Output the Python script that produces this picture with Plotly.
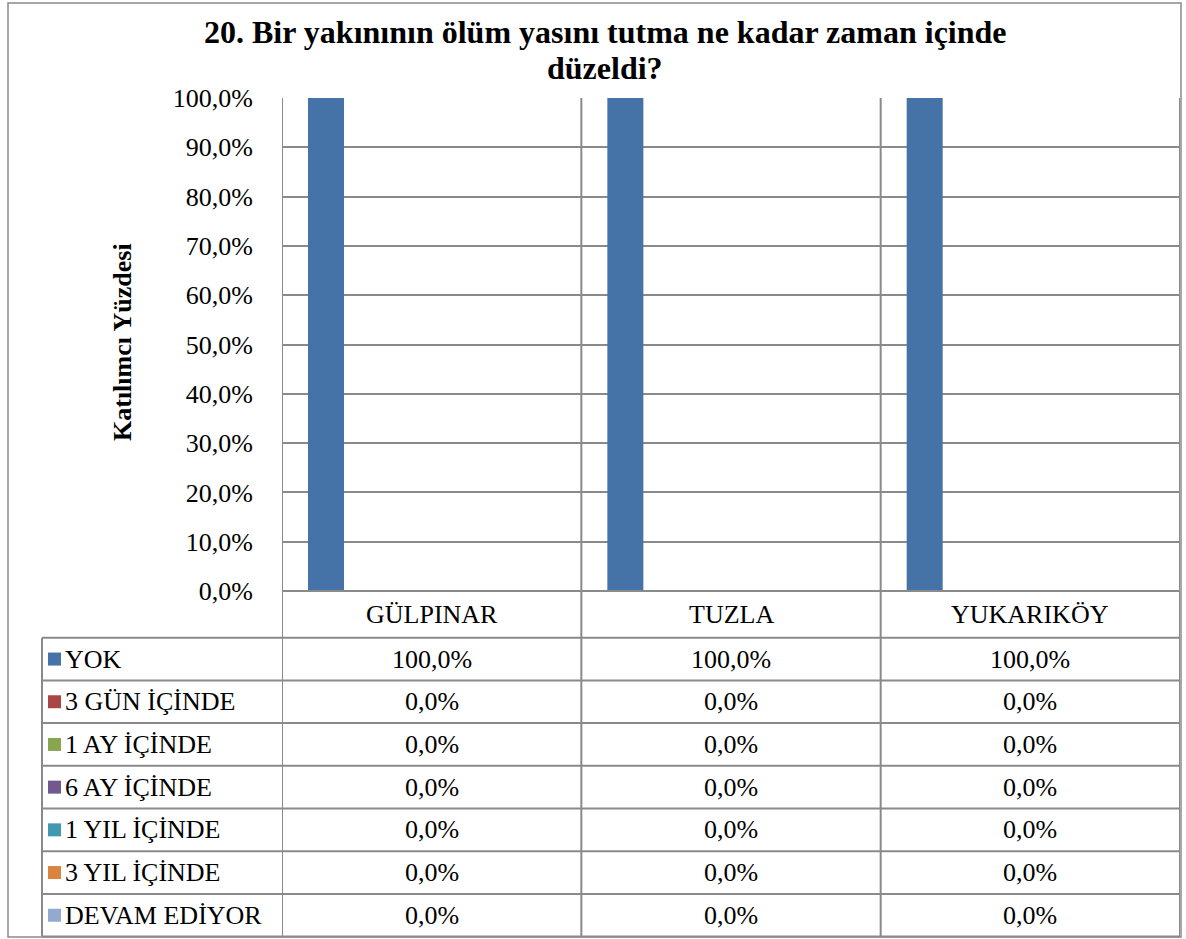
import plotly.graph_objects as go

# ---- data ----
categories = ["GÜLPINAR", "TUZLA", "YUKARIKÖY"]
series_names = ["YOK", "3 GÜN İÇİNDE", "1 AY İÇİNDE", "6 AY İÇİNDE",
                "1 YIL İÇİNDE", "3 YIL İÇİNDE", "DEVAM EDİYOR"]
yok = [100.0, 100.0, 100.0]
gun3 = [0.0, 0.0, 0.0]
ay1 = [0.0, 0.0, 0.0]
ay6 = [0.0, 0.0, 0.0]
yil1 = [0.0, 0.0, 0.0]
yil3 = [0.0, 0.0, 0.0]
devam = [0.0, 0.0, 0.0]
series_values = [yok, gun3, ay1, ay6, yil1, yil3, devam]
y_ticks = [0, 10, 20, 30, 40, 50, 60, 70, 80, 90, 100]

title_lines = ["20. Bir yakınının ölüm yasını tutma ne kadar zaman içinde", "düzeldi?"]
y_title = "Katılımcı Yüzdesi"

# ---- style ----
colors = ["#4572A7", "#AA4643", "#89A54E", "#71588F", "#4198AF", "#DB843D", "#93A9CF"]
FONT = "Liberation Serif"
GRID = "#8a8a8a"
TXT = 26
W, H = 1186, 939
PL, PR, PT, PB = 282, 1180, 98, 591      # plot area in pixels
TABLE_L = 42
HEADER_B = 637.7
ROW_H = 42.7
TABLE_B = HEADER_B + ROW_H * len(series_names)


def px(x):
    return (x - PL) / (PR - PL)


def py(y):
    return (PB - y) / (PB - PT)


def fmt(v):
    return f"{v:.1f}%".replace(".", ",")


fig = go.Figure()

bar_w = 0.1203
first_off = -0.5 + 0.0869
for k, (name, vals) in enumerate(zip(series_names, series_values)):
    fig.add_trace(go.Bar(
        x=categories, y=vals, name=name,
        marker=dict(color=colors[k], line=dict(width=0)),
        width=bar_w, offset=first_off + k * bar_w,
        showlegend=False, hoverinfo="skip",
    ))

shapes = []
line = dict(color=GRID, width=2)

# outer chart border
shapes.append(dict(type="rect", xref="paper", yref="paper",
                   x0=px(8), x1=px(1181), y0=py(3), y1=py(937),
                   line=dict(color=GRID, width=1.5)))
# axis baseline / table header top
shapes.append(dict(type="line", xref="paper", yref="paper",
                   x0=0, x1=1, y0=0, y1=0, line=line))
# category dividers running through the data table
for b in [-0.5, 0.5, 1.5, 2.5]:
    shapes.append(dict(type="line", xref="x", yref="paper",
                       x0=b, x1=b, y0=1, y1=py(TABLE_B), line=line))
# table row lines
for k in range(len(series_names) + 1):
    yy = py(HEADER_B + k * ROW_H)
    shapes.append(dict(type="line", xref="paper", yref="paper",
                       x0=px(TABLE_L), x1=1, y0=yy, y1=yy, line=line))
shapes.append(dict(type="line", xref="paper", yref="paper",
                   x0=px(TABLE_L), x1=px(TABLE_L), y0=py(HEADER_B), y1=py(TABLE_B),
                   line=line))

annotations = []
# legend keys and series names in the table
for k, name in enumerate(series_names):
    cy = HEADER_B + ROW_H * (k + 0.5)
    shapes.append(dict(type="rect", xref="paper", yref="paper",
                       x0=px(48), x1=px(61), y0=py(cy - 6.5), y1=py(cy + 6.5),
                       fillcolor=colors[k], line=dict(width=0)))
    annotations.append(dict(x=px(63), y=py(cy), xref="paper", yref="paper",
                            text=name, showarrow=False, xanchor="left", yanchor="middle",
                            font=dict(family=FONT, size=TXT, color="black")))
    for i, v in enumerate(series_values[k]):
        annotations.append(dict(x=i, y=py(cy), xref="x", yref="paper",
                                text=fmt(v), showarrow=False, xanchor="center",
                                yanchor="middle",
                                font=dict(family=FONT, size=TXT, color="black")))

# category header row
for i, c in enumerate(categories):
    annotations.append(dict(x=i, y=py((PB + HEADER_B) / 2), xref="x", yref="paper",
                            text=c, showarrow=False, xanchor="center", yanchor="middle",
                            font=dict(family=FONT, size=TXT, color="black")))

# chart title, two lines
for j, (t, ty) in enumerate(zip(title_lines, [32, 68])):
    annotations.append(dict(x=px(605), y=py(ty), xref="paper", yref="paper",
                            text=f"<b>{t}</b>", showarrow=False,
                            xanchor="center", yanchor="middle",
                            font=dict(family=FONT, size=32, color="black")))
# y-axis title
annotations.append(dict(x=px(122), y=py(342), xref="paper", yref="paper",
                        text=f"<b>{y_title}</b>", showarrow=False, textangle=-90,
                        xanchor="center", yanchor="middle",
                        font=dict(family=FONT, size=26, color="black")))

fig.update_layout(
    width=W, height=H,
    margin=dict(l=PL, r=W - PR, t=PT, b=H - PB, pad=0),
    paper_bgcolor="white", plot_bgcolor="white",
    barmode="overlay",
    shapes=shapes,
    annotations=annotations,
    xaxis=dict(type="category", range=[-0.5, 2.5], showticklabels=False,
               showgrid=False, zeroline=False, showline=False, ticks=""),
    yaxis=dict(range=[0, 100], tickmode="array", tickvals=y_ticks,
               ticktext=[fmt(t) for t in y_ticks],
               showgrid=True, gridcolor=GRID, gridwidth=2, zeroline=False,
               showline=False, ticks="", ticklabelstandoff=28,
               tickfont=dict(family=FONT, size=TXT, color="black")),
    font=dict(family=FONT, color="black"),
)

fig.write_html("out.html")
